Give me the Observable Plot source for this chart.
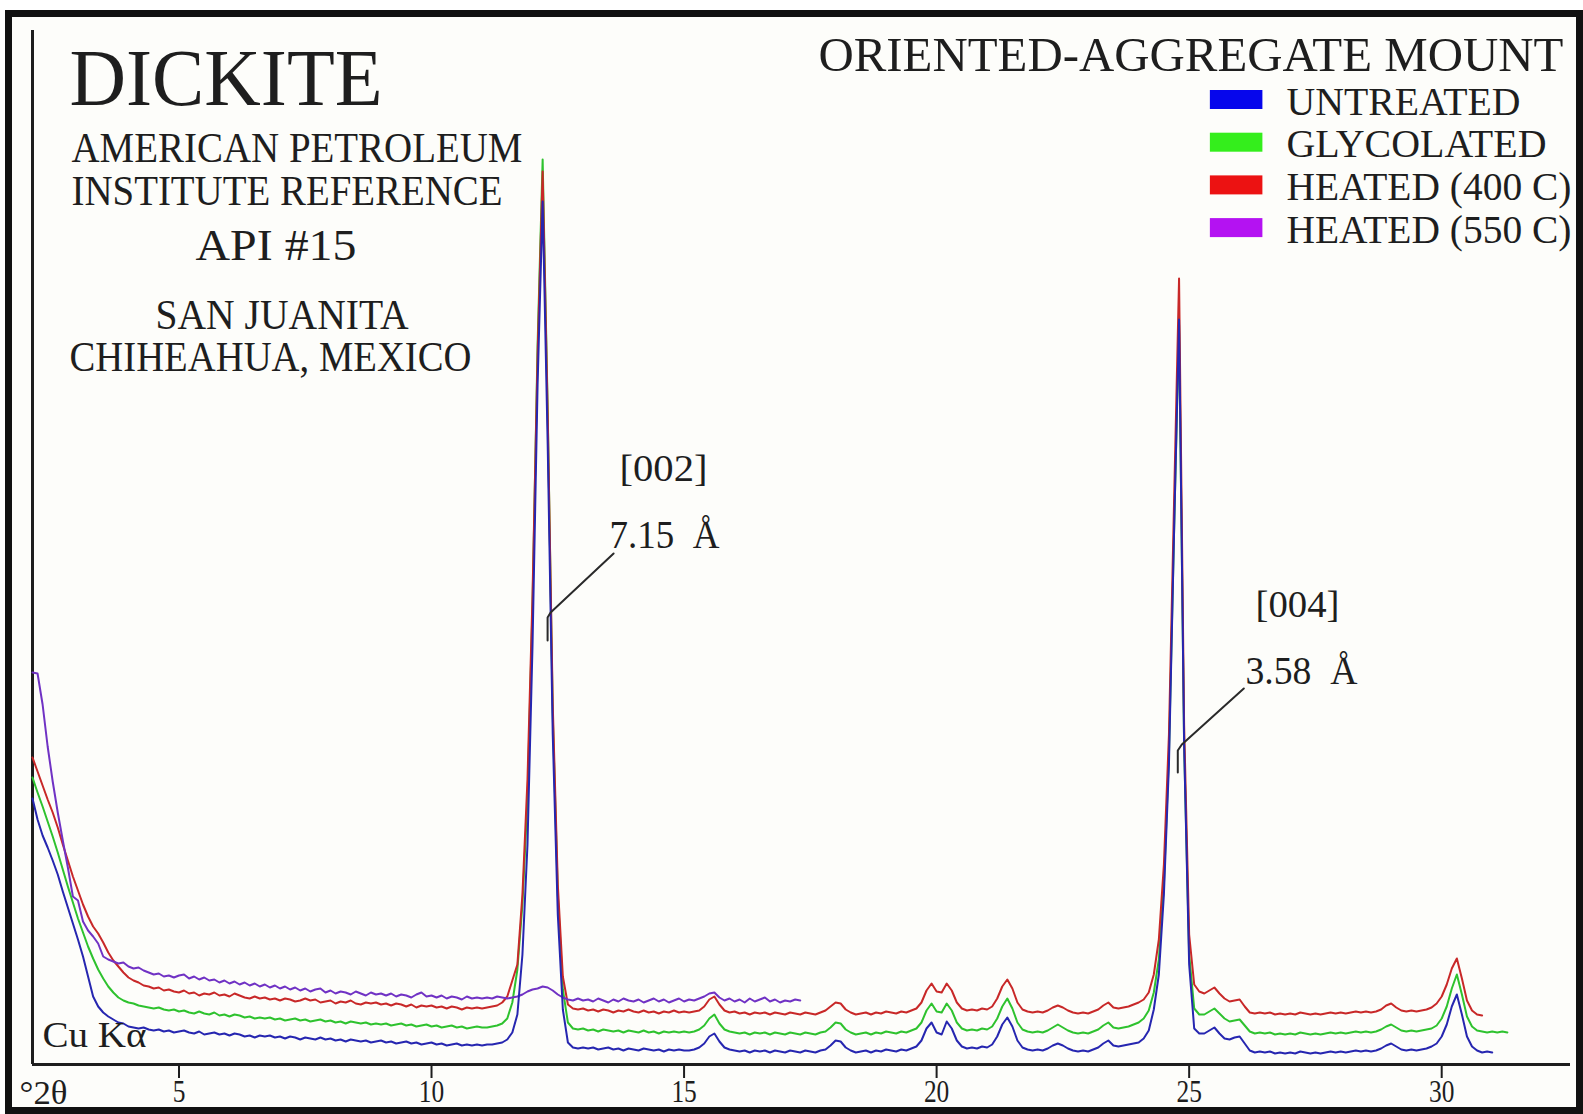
<!DOCTYPE html>
<html><head><meta charset="utf-8">
<script src="https://cdn.jsdelivr.net/npm/d3@7"></script>
<script src="https://cdn.jsdelivr.net/npm/@observablehq/plot@0.6"></script>
<style>
html,body{margin:0;padding:0;background:#fff;}
#frame{position:absolute;left:5px;top:10px;width:1578px;height:1104px;box-sizing:border-box;border:7px solid #111;background:#fdfdfa;}
#chart{position:absolute;left:0;top:0;}
</style></head><body><div id="frame"></div><div id="chart"></div>
<script>
// ---------------- DATA ----------------
const xTicks = [5, 10, 15, 20, 25, 30];
const seriesNames = ["UNTREATED", "GLYCOLATED", "HEATED (400 C)", "HEATED (550 C)"];
const twoThetaStart = 2.1;   // °2θ of first sample
const twoThetaStep = 0.1;    // sampling step of the scans

// intensity (arbitrary counts, offset traces) — UNTREATED, 2.1 … 31.0 °2θ
const untreated = [
  266,245,229,217,204,190,173,157,141,125,
  108,88,68,58,52,48,45,42,41,38,
  37,36,37,35,34,35,33,34,32,33,
  34,32,31,33,30,31,32,30,31,29,
  31,30,28,29,27,29,28,29,27,28,
  26,28,27,25,27,26,25,27,25,26,
  24,25,23,25,24,23,24,22,23,24,
  22,23,21,22,23,21,22,20,21,22,
  20,21,19,20,21,19,20,19,20,19,
  20,20,21,22,25,32,50,110,220,420,
  680,863,620,330,150,55,22,17,16,17,
  16,17,15,16,17,15,16,14,16,15,
  14,16,15,14,15,13,15,14,15,14,
  14,15,17,21,28,31,23,17,15,14,
  13,14,12,14,13,14,12,14,13,12,
  14,13,12,14,13,12,14,15,19,24,
  23,17,14,12,13,14,12,14,13,15,
  14,13,15,14,16,18,24,36,42,32,
  30,43,36,24,18,16,17,16,18,17,
  20,28,40,47,38,24,17,15,14,15,
  14,16,19,21,19,16,14,13,14,13,
  15,17,21,24,19,18,19,20,21,22,
  26,34,55,90,170,300,530,745,320,100,
  36,31,31,34,37,31,26,25,27,28,
  21,14,12,13,12,13,11,12,11,12,
  11,13,12,11,12,11,12,13,12,13,
  12,13,14,13,14,13,14,16,19,21,
  18,15,14,15,14,15,16,18,21,28,
  40,58,70,50,28,18,14,12,13,12
];
// GLYCOLATED, 2.1 … 31.3 °2θ
const glycolated = [
  287,272,258,243,228,212,195,178,162,146,
  132,118,106,95,86,78,72,67,64,62,
  61,59,58,57,56,57,55,54,55,53,
  54,52,51,53,51,50,52,49,50,48,
  50,49,47,48,46,47,46,47,45,46,
  44,45,46,44,45,43,44,45,43,44,
  42,43,41,43,42,41,42,40,41,40,
  41,39,40,41,39,40,38,39,40,38,
  39,37,38,39,37,38,36,37,38,37,
  37,38,39,41,46,62,95,160,265,460,
  720,905,655,350,170,75,42,36,35,36,
  34,35,33,35,34,33,34,32,34,33,
  32,34,32,33,31,33,32,33,32,33,
  32,33,35,39,46,50,41,35,33,32,
  31,32,30,32,31,32,30,32,31,30,
  32,31,30,32,31,30,32,33,37,42,
  41,35,32,30,31,32,30,32,31,33,
  32,31,33,32,34,36,42,54,61,53,
  52,61,54,42,36,34,35,34,36,35,
  38,46,58,66,56,42,35,33,32,33,
  32,34,37,40,37,34,32,31,32,31,
  33,35,39,42,37,36,37,38,40,42,
  46,54,72,105,180,310,530,740,320,110,
  56,50,50,53,56,51,46,43,44,45,
  39,33,31,32,31,32,30,31,30,31,
  30,32,31,30,31,30,31,32,31,32,
  31,32,33,32,33,32,33,35,38,40,
  37,34,33,34,33,34,35,36,39,46,
  58,76,90,70,48,38,34,33,32,33,
  32,33,32
];
// HEATED (400 C), 2.1 … 30.8 °2θ
const heated400 = [
  307,293,279,265,252,237,220,204,188,174,
  160,148,138,131,122,112,104,98,92,87,
  84,82,79,78,76,77,74,75,73,72,
  74,71,72,69,71,70,72,69,70,68,
  71,69,67,66,68,66,67,65,66,64,
  66,65,63,64,66,64,65,62,63,64,
  61,63,62,64,61,60,62,61,62,60,
  61,59,61,60,58,60,57,59,58,59,
  57,58,56,58,57,55,57,56,57,56,
  57,58,59,62,68,84,100,170,285,470,
  710,893,650,360,180,88,60,56,55,56,
  54,55,53,55,54,52,54,53,55,53,
  52,54,52,53,51,53,52,54,52,53,
  52,53,54,58,65,68,60,54,52,53,
  51,52,50,52,51,52,50,52,51,50,
  52,51,50,52,51,50,52,54,58,62,
  61,55,52,50,51,52,50,52,51,53,
  52,51,53,52,54,56,62,74,81,73,
  72,81,74,62,56,54,55,54,56,55,
  58,66,78,85,76,62,55,53,52,53,
  52,54,57,59,57,54,52,51,52,51,
  53,55,59,62,57,56,57,58,60,62,
  65,72,90,125,200,330,560,786,340,130,
  80,73,71,74,77,71,66,63,64,65,
  58,52,51,52,51,52,50,51,50,51,
  50,52,51,50,51,50,51,52,51,52,
  51,52,53,52,53,52,53,55,59,61,
  57,54,53,54,53,54,55,57,61,68,
  80,96,106,86,64,54,50,49
];
// HEATED (550 C), 2.1 … 17.3 °2θ
const heated550 = [
  392,391,360,318,283,252,224,197,168,164,
  143,134,128,121,108,105,103,101,102,98,
  96,97,94,92,90,91,88,89,87,89,
  90,86,88,85,87,84,85,82,84,81,
  83,80,82,79,81,78,80,77,79,76,
  78,75,77,74,76,73,75,76,72,74,
  71,73,72,70,73,71,69,72,70,71,
  69,71,68,70,69,67,70,72,68,69,
  67,69,66,68,67,65,68,66,67,66,
  67,66,68,67,66,67,68,70,73,75,
  76,78,77,74,70,67,65,64,66,64,
  65,63,66,64,62,65,63,66,64,63,
  65,62,64,66,63,65,62,64,66,63,
  65,64,66,68,71,72,67,64,66,63,
  65,62,66,63,65,67,63,65,62,64,
  63,65,64
];

// ---------------- STYLES ----------------
const font = "Liberation Serif";
const ink = "#1e1e1e";
const tickFontSize = 31;
const lineColor = {"UNTREATED": "#2626b0", "GLYCOLATED": "#2ec22e", "HEATED (400 C)": "#c82828", "HEATED (550 C)": "#7032c4"};
const swatchColor = {"UNTREATED": "#0606ec", "GLYCOLATED": "#34ee1c", "HEATED (400 C)": "#ec1212", "HEATED (550 C)": "#b412f2"};
const drawOrder = ["GLYCOLATED", "HEATED (400 C)", "HEATED (550 C)", "UNTREATED"];

// ---------------- BUILD TABLE ----------------
const valuesBySeries = {"UNTREATED": untreated, "GLYCOLATED": glycolated, "HEATED (400 C)": heated400, "HEATED (550 C)": heated550};
const table = [];
for (const s of seriesNames) {
  valuesBySeries[s].forEach((v, i) => table.push({series: s, twoTheta: +(twoThetaStart + i * twoThetaStep).toFixed(2), counts: v}));
}

// annotation placement in data units (°2θ, counts)
const titleTexts = [
  {text: "DICKITE", x: 2.833, y: 960, size: 80},
  {text: "AMERICAN PETROLEUM", x: 2.872, y: 903, size: 42},
  {text: "INSTITUTE REFERENCE", x: 2.872, y: 860, size: 42},
  {text: "API #15", x: 5.327, y: 805, size: 44},
  {text: "SAN JUANITA", x: 4.535, y: 736, size: 42},
  {text: "CHIHEAHUA, MEXICO", x: 2.833, y: 694, size: 42},
  {text: "ORIENTED-AGGREGATE MOUNT", x: 17.66, y: 994, size: 49},
  {text: "[002]", x: 13.722, y: 584, size: 38},
  {text: "7.15\u2002Å", x: 13.524, y: 517, size: 40},
  {text: "[004]", x: 26.313, y: 448, size: 38},
  {text: "3.58\u2002Å", x: 26.115, y: 381, size: 40},
  {text: "Cu Kα", x: 2.298, y: 18, size: 36},
  {text: "°2θ", x: 1.843, y: -39, size: 34}
];
const textWidths = new Map([
  ["DICKITE", 313], ["AMERICAN PETROLEUM", 451], ["INSTITUTE REFERENCE", 431], ["API #15", 161],
  ["SAN JUANITA", 253], ["CHIHEAHUA, MEXICO", 402], ["ORIENTED-AGGREGATE MOUNT", 745],
  ["[002]", 88], ["7.15\u2002Å", 110], ["[004]", 84], ["3.58\u2002Å", 112], ["Cu Kα", 104], ["°2θ", 48],
  ["UNTREATED", 234], ["GLYCOLATED", 260], ["HEATED (400 C)", 285], ["HEATED (550 C)", 285]
]);
const legendX = 26.927, legendY0 = 950, legendDy = 42.7;
const legendRows = seriesNames.map((s, i) => ({
  text: s, x: legendX, y: legendY0 - i * legendDy,
  x1: 25.42, x2: 26.46, y1: legendY0 + 5 - i * legendDy, y2: legendY0 + 24 - i * legendDy,
  color: swatchColor[s]
}));
const leaders = [
  [{x: 13.605, y: 511}, {x: 12.358, y: 452}, {x: 12.298, y: 447}, {x: 12.298, y: 424}],
  [{x: 26.082, y: 376}, {x: 24.855, y: 320}, {x: 24.775, y: 314}, {x: 24.775, y: 292}]
];

const marks = [
  Plot.axisX({ticks: xTicks, tickSize: 14, tickPadding: 1, fontSize: tickFontSize, fontFamily: font, color: ink, strokeWidth: 2, label: null, tickFormat: d => String(d)}),
  Plot.ruleY([0], {stroke: ink, strokeWidth: 3}),
  Plot.ruleX([twoThetaStart], {stroke: ink, strokeWidth: 3})
];
for (const s of drawOrder) {
  marks.push(Plot.line(table.filter(d => d.series === s), {x: "twoTheta", y: "counts", stroke: lineColor[s], strokeWidth: 2, strokeLinejoin: "round"}));
}
for (const L of leaders) marks.push(Plot.line(L, {x: "x", y: "y", stroke: "#2a2a2a", strokeWidth: 2}));
for (const t of titleTexts) {
  marks.push(Plot.text([t], {x: "x", y: "y", text: "text", fontSize: t.size, fontFamily: font, fill: ink, textAnchor: "start", lineAnchor: "bottom"}));
}
marks.push(Plot.rect(legendRows, {x1: "x1", x2: "x2", y1: "y1", y2: "y2", fill: "color"}));
marks.push(Plot.text(legendRows, {x: "x", y: "y", text: "text", fontSize: 40, fontFamily: font, fill: ink, textAnchor: "start", lineAnchor: "bottom"}));

const svg = Plot.plot({
  width: 1583, height: 1114,
  marginLeft: 32, marginRight: 13, marginTop: 30, marginBottom: 50,
  x: {domain: [twoThetaStart, 32.55]},
  y: {domain: [0, 1034], axis: null},
  color: {type: "identity"},
  style: {background: "transparent", overflow: "visible", fontFamily: font},
  marks
});
document.getElementById("chart").appendChild(svg);

const labelSet = new Set(xTicks.map(String));
d3.select(svg).selectAll("text").each(function() {
  const w = textWidths.get(this.textContent);
  if (w) { this.setAttribute("textLength", w); this.setAttribute("lengthAdjust", "spacingAndGlyphs"); }
  else if (labelSet.has(this.textContent)) {
    this.setAttribute("font-size", tickFontSize);
    this.style.fontSize = tickFontSize + "px";
    this.parentNode.setAttribute("font-size", tickFontSize);
    const lw = this.getComputedTextLength();
    this.setAttribute("textLength", (lw * 0.82).toFixed(1));
    this.setAttribute("lengthAdjust", "spacingAndGlyphs");
  }
});
</script></body></html>
